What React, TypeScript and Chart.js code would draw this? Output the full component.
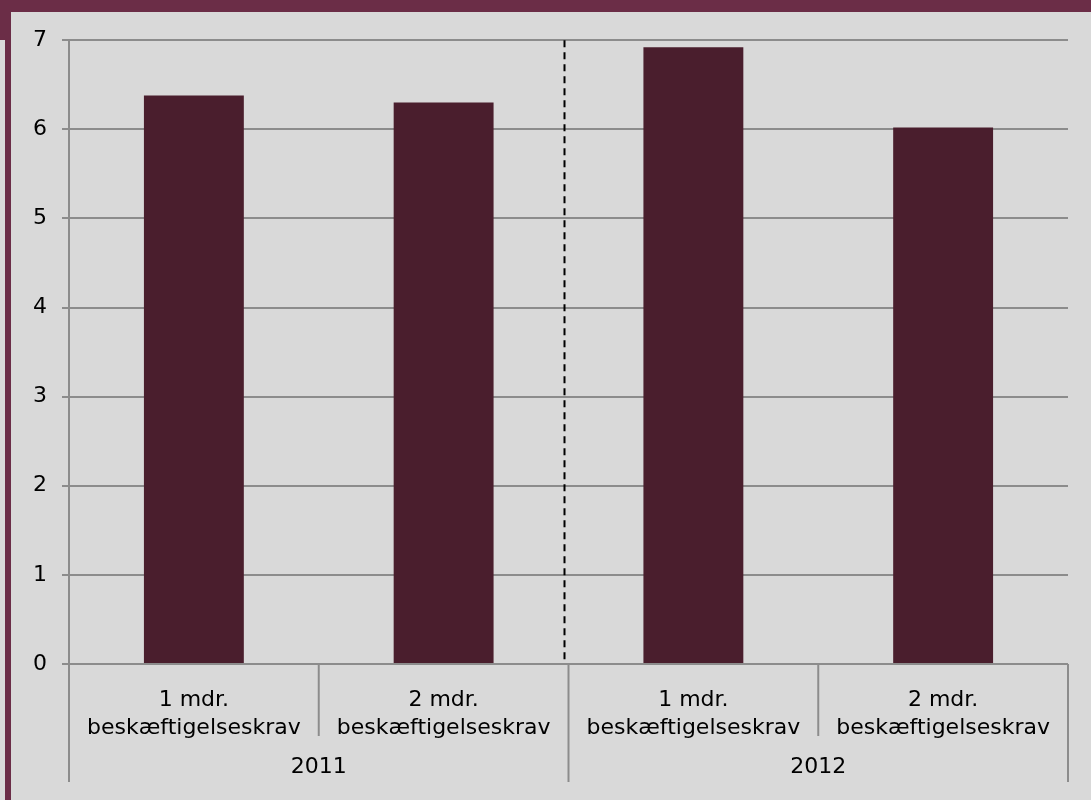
import React, { useEffect, useRef } from "react";
import { Chart, registerables } from "chart.js";

Chart.register(...registerables);

const categories: string[][] = [
  ["1 mdr.", "beskæftigelseskrav"],
  ["2 mdr.", "beskæftigelseskrav"],
  ["1 mdr.", "beskæftigelseskrav"],
  ["2 mdr.", "beskæftigelseskrav"],
];
const years: string[] = ["2011", "2012"];
const values: number[] = [6.38, 6.3, 6.92, 6.02];
const yTicks: number[] = [0, 1, 2, 3, 4, 5, 6, 7];
const dividerAt = 1.48;

const FONT = "'DejaVu Sans', Verdana, sans-serif";
const GRID = "#8c8c8c";

const decorPlugin = {
  id: "decor",
  afterDatasetsDraw(chart: any) {
    const { ctx, chartArea, scales } = chart;
    const x = scales.x;
    ctx.save();
    // dashed divider
    ctx.strokeStyle = "#000";
    ctx.lineWidth = 2;
    ctx.setLineDash([7, 5]);
    const dx = Math.round(x.getPixelForValue(dividerAt)) + 0.5;
    ctx.beginPath();
    ctx.moveTo(dx, chartArea.top);
    ctx.lineTo(dx, chartArea.bottom);
    ctx.stroke();
    ctx.setLineDash([]);
    // category separators
    ctx.strokeStyle = GRID;
    ctx.lineWidth = 2;
    const n = categories.length;
    for (let i = 0; i <= n; i++) {
      const px = x.getPixelForValue(i - 0.5);
      const long = i % 2 === 0;
      ctx.beginPath();
      ctx.moveTo(px, chartArea.bottom);
      ctx.lineTo(px, chartArea.bottom + (long ? 118 : 72));
      ctx.stroke();
    }
    // year labels
    ctx.fillStyle = "#000";
    ctx.font = `22px ${FONT}`;
    ctx.textAlign = "center";
    ctx.textBaseline = "middle";
    years.forEach((yr, g) => {
      const a = x.getPixelForValue(g * 2 - 0.5);
      const b = x.getPixelForValue(g * 2 + 1.5);
      ctx.fillText(yr, (a + b) / 2, chartArea.bottom + 103);
    });
    ctx.restore();
  },
};

export default function App() {
  const ref = useRef<HTMLCanvasElement | null>(null);
  useEffect(() => {
    document.body.style.margin = "0";
    const chart = new Chart(ref.current as HTMLCanvasElement, {
      type: "bar",
      data: {
        labels: categories,
        datasets: [
          {
            data: values,
            backgroundColor: "#4a1e2d",
            barPercentage: 0.4,
            categoryPercentage: 1,
          },
        ],
      },
      options: {
        animation: false,
        responsive: false,
        devicePixelRatio: 1,
        layout: { padding: { top: 28, right: 23, left: 0, bottom: 0 } },
        plugins: { legend: { display: false }, tooltip: { enabled: false } },
        scales: {
          x: {
            grid: { display: false },
            border: { display: false },
            ticks: {
              color: "#000",
              font: { family: FONT, size: 22, lineHeight: 28 / 22 },
              padding: 14,
              maxRotation: 0,
              autoSkip: false,
            },
            afterFit: (s: any) => {
              s.height = 136;
            },
          },
          y: {
            min: 0,
            max: 7,
            afterBuildTicks: (s: any) => {
              s.ticks = yTicks.map((v) => ({ value: v }));
            },
            grid: { color: GRID, lineWidth: 2, tickLength: 7 },
            border: { color: GRID, width: 2 },
            ticks: {
              color: "#000",
              font: { family: FONT, size: 22 },
              padding: 15,
            },
            afterFit: (s: any) => {
              s.width = 58;
            },
          },
        },
      },
      plugins: [decorPlugin],
    });
    return () => chart.destroy();
  }, []);
  return (
    <div style={{ position: "relative", width: 1091, height: 800, background: "#d9d9d9", overflow: "hidden" }}>
      <div style={{ position: "absolute", left: 0, top: 0, width: 1091, height: 12, background: "#6b2d47" }} />
      <div style={{ position: "absolute", left: 5, top: 0, width: 6, height: 800, background: "#6b2d47" }} />
      <div style={{ position: "absolute", left: 0, top: 0, width: 5, height: 40, background: "#6b2d47" }} />
      <canvas ref={ref} width={1080} height={788} style={{ position: "absolute", left: 11, top: 12, width: 1080, height: 788 }} />
    </div>
  );
}
